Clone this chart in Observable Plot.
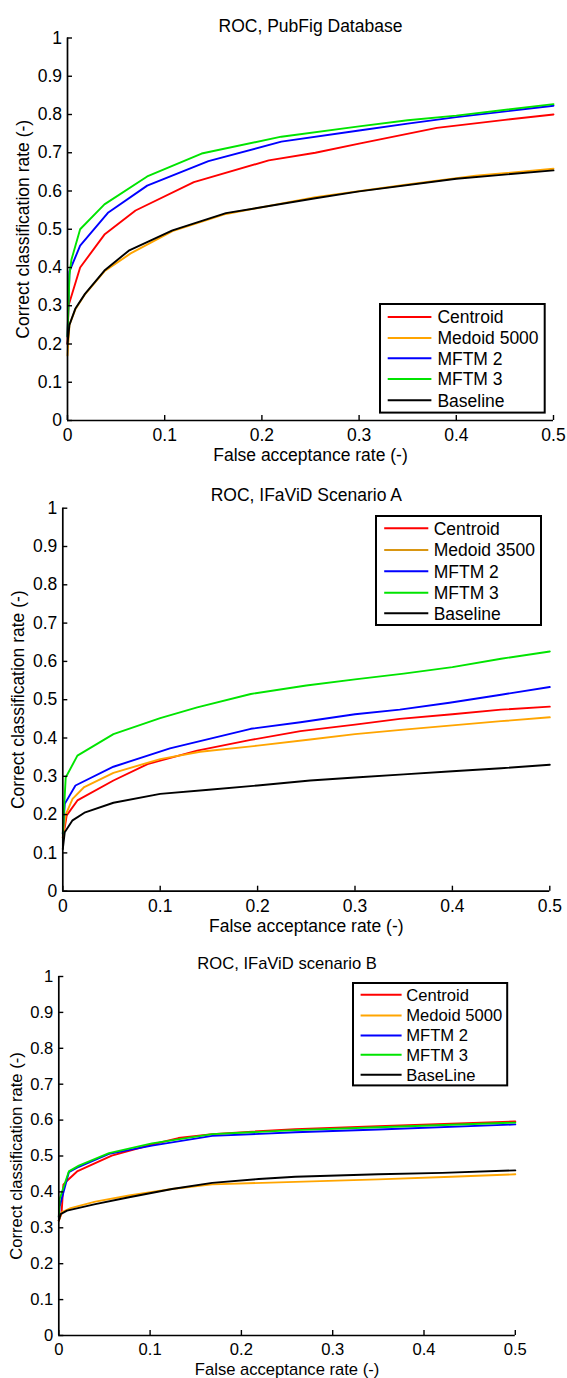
<!DOCTYPE html>
<html><head><meta charset="utf-8">
<script src="https://cdn.jsdelivr.net/npm/d3@7"></script>
<script src="https://cdn.jsdelivr.net/npm/@observablehq/plot@0.6"></script>
<style>
body{margin:0;background:#fff;}
#root{position:relative;width:567px;height:1378px;font-family:"Liberation Sans",Arial,Helvetica,sans-serif;}
.panel{position:absolute;left:0;width:567px;}
.legend{position:absolute;}
</style></head><body><div id="root"></div>
<script>
// ---- shared tick values ----
const xTicks = [0, 0.1, 0.2, 0.3, 0.4, 0.5];
const yTicks = [0, 0.1, 0.2, 0.3, 0.4, 0.5, 0.6, 0.7, 0.8, 0.9, 1];

// ---- panel titles & labels ----
const titles = ["ROC, PubFig Database", "ROC, IFaViD Scenario A", "ROC, IFaViD scenario B"];
const xLabel = "False acceptance rate (-)";
const yLabel = "Correct classification rate (-)";

// ---- series names & colours ----
const namesA = ["Centroid", "Medoid 5000", "MFTM 2", "MFTM 3", "Baseline"];
const namesB = ["Centroid", "Medoid 3500", "MFTM 2", "MFTM 3", "Baseline"];
const namesC = ["Centroid", "Medoid 5000", "MFTM 2", "MFTM 3", "BaseLine"];
const lineColors = ["#ff0000", "#ffa500", "#0000ff", "#00e400", "#000000"];
const legendColorsB = ["#ff0000", "#d99612", "#0000ff", "#00e400", "#000000"];

// ---- Panel 1: PubFig ----
const pubCentroid = [[0,0.2],[0.001,0.3],[0.013,0.40],[0.038,0.486],[0.07,0.549],[0.13,0.623],[0.207,0.68],[0.255,0.70],[0.3,0.724],[0.38,0.765],[0.45,0.786],[0.5,0.80]];
const pubMedoid = [[0,0.17],[0.002,0.25],[0.008,0.29],[0.018,0.33],[0.038,0.39],[0.065,0.437],[0.108,0.495],[0.163,0.54],[0.255,0.584],[0.35,0.617],[0.42,0.64],[0.5,0.658]];
const pubMftm2 = [[0,0.22],[0.002,0.39],[0.013,0.457],[0.042,0.544],[0.082,0.614],[0.145,0.678],[0.22,0.729],[0.3,0.758],[0.35,0.776],[0.4,0.793],[0.5,0.823]];
const pubMftm3 = [[0,0.22],[0.002,0.38],[0.004,0.42],[0.013,0.50],[0.038,0.565],[0.082,0.638],[0.138,0.698],[0.22,0.742],[0.3,0.769],[0.35,0.785],[0.4,0.797],[0.5,0.827]];
const pubBaseline = [[0,0.2],[0.002,0.25],[0.008,0.292],[0.018,0.331],[0.038,0.392],[0.063,0.444],[0.108,0.497],[0.163,0.542],[0.255,0.581],[0.3,0.599],[0.4,0.632],[0.5,0.654]];

// ---- Panel 2: IFaViD Scenario A ----
const aCentroid = [[0,0.14],[0.002,0.167],[0.004,0.198],[0.015,0.237],[0.052,0.289],[0.087,0.332],[0.138,0.367],[0.193,0.395],[0.244,0.418],[0.3,0.435],[0.346,0.45],[0.4,0.462],[0.45,0.474],[0.5,0.482]];
const aMedoid = [[0,0.14],[0.003,0.2],[0.01,0.241],[0.022,0.272],[0.052,0.309],[0.10,0.345],[0.141,0.364],[0.2,0.38],[0.254,0.396],[0.3,0.41],[0.35,0.422],[0.4,0.433],[0.45,0.444],[0.5,0.454]];
const aMftm2 = [[0,0.15],[0.002,0.228],[0.013,0.276],[0.052,0.325],[0.11,0.373],[0.193,0.424],[0.244,0.441],[0.3,0.462],[0.346,0.474],[0.397,0.492],[0.45,0.513],[0.5,0.533]];
const aMftm3 = [[0,0.15],[0.002,0.25],[0.003,0.297],[0.015,0.354],[0.052,0.41],[0.10,0.452],[0.138,0.48],[0.193,0.515],[0.25,0.537],[0.3,0.553],[0.35,0.568],[0.4,0.585],[0.45,0.607],[0.5,0.626]];
const aBaseline = [[0,0.11],[0.002,0.154],[0.01,0.185],[0.023,0.206],[0.052,0.231],[0.10,0.254],[0.15,0.265],[0.2,0.276],[0.254,0.289],[0.3,0.297],[0.35,0.305],[0.4,0.313],[0.45,0.321],[0.5,0.33]];

// ---- Panel 3: IFaViD scenario B ----
const bCentroid = [[0,0.32],[0.003,0.34],[0.004,0.38],[0.005,0.42],[0.009,0.431],[0.02,0.457],[0.058,0.501],[0.102,0.532],[0.131,0.55],[0.168,0.561],[0.259,0.575],[0.35,0.583],[0.5,0.596]];
const bMedoid = [[0,0.32],[0.003,0.343],[0.013,0.355],[0.04,0.373],[0.077,0.39],[0.124,0.408],[0.168,0.421],[0.259,0.428],[0.35,0.435],[0.43,0.442],[0.5,0.449]];
const bMftm2 = [[0,0.33],[0.001,0.36],[0.011,0.455],[0.022,0.47],[0.055,0.506],[0.102,0.529],[0.168,0.556],[0.259,0.566],[0.35,0.574],[0.5,0.588]];
const bMftm3 = [[0,0.33],[0.001,0.38],[0.004,0.404],[0.011,0.457],[0.022,0.473],[0.055,0.508],[0.102,0.535],[0.168,0.561],[0.259,0.572],[0.35,0.58],[0.5,0.593]];
const bBaseline = [[0,0.32],[0.002,0.338],[0.009,0.348],[0.04,0.366],[0.077,0.385],[0.124,0.408],[0.168,0.425],[0.219,0.436],[0.259,0.442],[0.35,0.449],[0.42,0.453],[0.5,0.46]];

const fmt = d => String(+d.toFixed(1));
const FONT = '"Liberation Sans", Arial, Helvetica, sans-serif';

const panels = [
  {top:0, height:470, ml:67, mr:14, mt:37.5, mb:50, fs:17.5, title:titles[0], titleDy:-18.5, xlDy:40, ylDx:-44, tp:8,
   names:namesA, legendColors:lineColors, series:[pubCentroid,pubMedoid,pubMftm2,pubMftm3,pubBaseline],
   legend:{left:379.3, top:302.7, w:166.7, h:110.6, rows:[14,35,55.3,76,97.3], l1:8.7, l2:52.4, tx:58.4}},
  {top:470, height:472, ml:62.3, mr:17.7, mt:37.7, mb:51.3, fs:17.5, title:titles[1], titleDy:-19.4, xlDy:40.3, ylDx:-44.7, tp:8,
   names:namesB, legendColors:legendColorsB, series:[aCentroid,aMedoid,aMftm2,aMftm3,aBaseline],
   legend:{left:375, top:515, w:167, h:111, rows:[13.3,35,56.3,77.7,98.3], l1:9.2, l2:53.3, tx:58.7}},
  {top:942, height:436, ml:58.3, mr:52.2, mt:34, mb:43, fs:16.6, title:titles[2], titleDy:-19.3, xlDy:39, ylDx:-41.7, tp:7.5,
   names:namesC, legendColors:lineColors, series:[bCentroid,bMedoid,bMftm2,bMftm3,bBaseline],
   legend:{left:352.4, top:982.3, w:156.2, h:104.4, rows:[12.7,33.4,53.4,72.7,92.7], l1:8.6, l2:49.6, tx:54.2}}
];

const root = document.getElementById("root");

for (const cfg of panels) {
  const rows = cfg.series.flatMap((pts, i) => pts.map(([x, y]) => ({series: cfg.names[i], x, y})));
  const innerW = 567 - cfg.ml - cfg.mr;
  const innerH = cfg.height - cfg.mt - cfg.mb;
  const tickY = 5 / innerH;        // inward tick length in y data units
  const tickX = 5 / innerW * 0.5;  // inward tick length in x data units
  const plot = Plot.plot({
    width: 567, height: cfg.height,
    marginLeft: cfg.ml, marginRight: cfg.mr, marginTop: cfg.mt, marginBottom: cfg.mb,
    x: {domain: [0, 0.5]},
    y: {domain: [0, 1]},
    color: {domain: cfg.names, range: lineColors},
    style: {fontFamily: FONT, fontSize: cfg.fs + "px", background: "transparent", overflow: "visible", color: "#000"},
    marks: [
      Plot.line(rows, {x: "x", y: "y", z: "series", stroke: "series", strokeWidth: 1.9}),
      Plot.ruleX([0], {stroke: "#000", strokeWidth: 1.7}),
      Plot.ruleY([0], {stroke: "#000", strokeWidth: 1.7}),
      Plot.ruleX(xTicks, {x: d => d, y1: 0, y2: tickY, stroke: "#000", strokeWidth: 1.4}),
      Plot.ruleY(yTicks, {y: d => d, x1: 0, x2: tickX, stroke: "#000", strokeWidth: 1.4}),
      Plot.axisX({ticks: xTicks, tickSize: 0, tickPadding: cfg.tp, tickFormat: fmt, label: null, fontSize: cfg.fs, fill: "#000"}),
      Plot.axisY({ticks: yTicks, tickSize: 0, tickPadding: 5.5, tickFormat: fmt, label: null, fontSize: cfg.fs, fill: "#000"}),
      Plot.text([cfg.title], {frameAnchor: "top", dy: cfg.titleDy, fontSize: cfg.fs, fill: "#000", textAnchor: "middle"}),
      Plot.text([xLabel], {frameAnchor: "bottom", dy: cfg.xlDy, fontSize: cfg.fs, fill: "#000", textAnchor: "middle"}),
      Plot.text([yLabel], {frameAnchor: "left", dx: cfg.ylDx, rotate: -90, fontSize: cfg.fs, fill: "#000", textAnchor: "middle"})
    ]
  });
  const div = document.createElement("div");
  div.className = "panel";
  div.style.top = cfg.top + "px";
  div.style.height = cfg.height + "px";
  div.appendChild(plot);
  root.appendChild(div);

  // legend
  const L = cfg.legend;
  const svg = d3.select(root).append("svg")
    .attr("class", "legend")
    .attr("width", L.w).attr("height", L.h)
    .style("left", L.left + "px").style("top", L.top + "px")
    .style("overflow", "visible");
  svg.append("rect").attr("x", 1).attr("y", 1).attr("width", L.w - 2).attr("height", L.h - 2)
    .attr("fill", "#fff").attr("stroke", "#000").attr("stroke-width", 2);
  cfg.names.forEach((n, i) => {
    svg.append("line").attr("x1", L.l1).attr("x2", L.l2).attr("y1", L.rows[i]).attr("y2", L.rows[i])
      .attr("stroke", cfg.legendColors[i]).attr("stroke-width", 2);
    svg.append("text").attr("x", L.tx).attr("y", L.rows[i]).attr("dy", "0.36em")
      .attr("font-family", FONT).attr("font-size", cfg.fs).attr("fill", "#000").text(n);
  });
}
</script></body></html>
